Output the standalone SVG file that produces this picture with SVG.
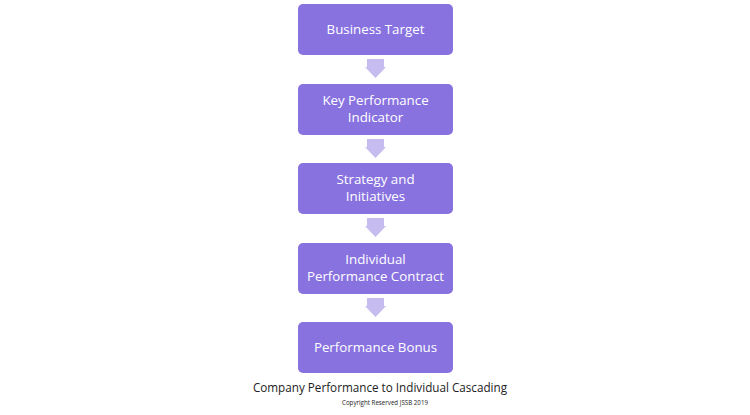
<svg xmlns="http://www.w3.org/2000/svg" width="750" height="415" viewBox="0 0 750 415">
<defs>
<style>
.box{fill:#8872E0;}
.lbl{fill:#ffffff;font-family:"Open Sans","Liberation Sans",sans-serif;font-size:13.3px;text-anchor:middle;}
.arr{fill:#C6BCF0;}
.cap{fill:#222222;font-family:"Open Sans","Liberation Sans",sans-serif;text-anchor:middle;}
</style>
</defs>
<rect width="750" height="415" fill="#ffffff"/>
<g id="n1"><rect class="box" x="298" y="4" width="155" height="51" rx="5"/><text class="lbl" x="375.5" y="34">Business Target</text></g>
<g id="n2"><rect class="box" x="298" y="84" width="155" height="51" rx="5"/><text class="lbl" x="375.5" y="105">Key Performance</text><text class="lbl" x="375.5" y="122">Indicator</text></g>
<g id="n3"><rect class="box" x="298" y="163" width="155" height="51" rx="5"/><text class="lbl" x="375.5" y="184">Strategy and</text><text class="lbl" x="375.5" y="201">Initiatives</text></g>
<g id="n4"><rect class="box" x="298" y="243" width="155" height="51" rx="5"/><text class="lbl" x="375.5" y="264">Individual</text><text class="lbl" x="375.5" y="281">Performance Contract</text></g>
<g id="n5"><rect class="box" x="298" y="322" width="155" height="51" rx="5"/><text class="lbl" x="375.5" y="352">Performance Bonus</text></g>
<g id="connectors">
<polygon class="arr" points="367,59 384,59 384,67 386,67 375.5,78 365,67 367,67"/>
<polygon class="arr" points="367,139 384,139 384,147 386,147 375.5,158 365,147 367,147"/>
<polygon class="arr" points="367,218 384,218 384,226 386,226 375.5,237 365,226 367,226"/>
<polygon class="arr" points="367,298 384,298 384,306 386,306 375.5,317 365,306 367,306"/>
</g>
<text class="cap" x="380" y="392" font-size="11.7">Company Performance to Individual Cascading</text>
<text class="cap" x="385" y="405" font-size="6.2">Copyright Reserved JSSB 2019</text>
</svg>
